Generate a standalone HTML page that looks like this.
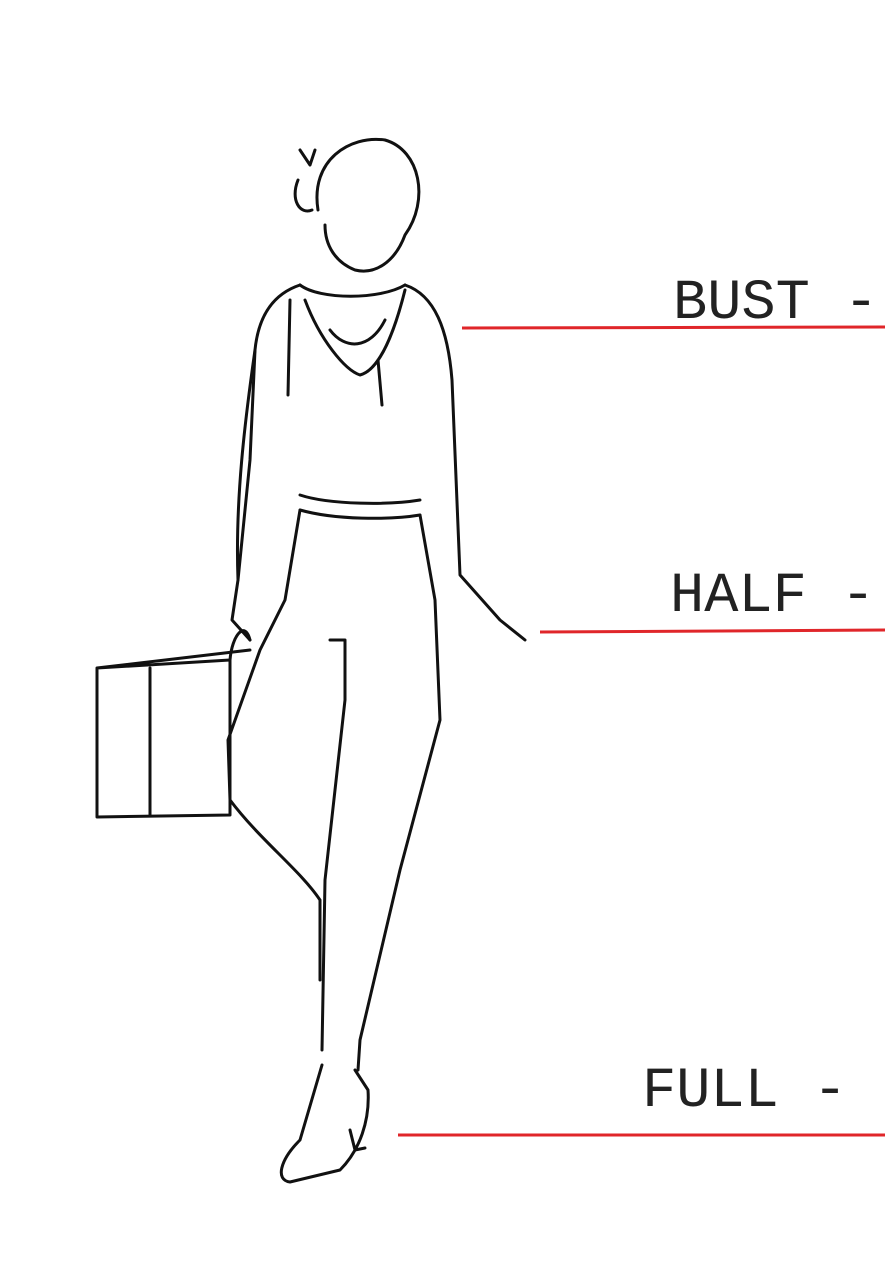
<!DOCTYPE html>
<html><head><meta charset="utf-8"><style>
html,body{margin:0;padding:0;background:#fff;}
svg{display:block;}
text{font-family:"Liberation Mono",monospace;font-size:57px;fill:#222;}
</style></head><body>
<svg width="885" height="1272" viewBox="0 0 885 1272">
<g fill="none" stroke="#111" stroke-width="3" stroke-linecap="round" stroke-linejoin="round">
<path d="M318 210 C310 160 350 135 385 140 C420 150 430 200 405 235 C395 262 375 275 355 270 C335 262 325 245 325 225"/>
<path d="M300 150 L310 165 L315 150 M298 180 C290 200 300 215 312 210"/>
<path d="M300 285 C320 300 380 300 405 285 M305 300 C320 340 345 370 360 375 C380 370 395 330 405 290 M330 330 C345 350 370 350 385 320 M290 300 L288 395 M378 360 L382 405"/>
<path d="M300 285 C270 295 258 320 255 350 L250 460 L238 580 M405 285 C435 295 448 330 452 380 L460 575 L500 620 L525 640 M300 495 C330 505 390 505 420 500 M300 510 C335 520 390 520 420 515"/>
<path d="M300 510 L285 600 L260 650 L228 740 L230 800 C260 840 300 870 320 900 L320 980 M420 515 L435 600 L440 720 L400 870 L360 1040 L358 1070 M330 640 L345 640 L345 700 L325 880 L322 1050"/>
<path d="M322 1065 L300 1140 C280 1160 275 1180 290 1182 L340 1170 C360 1150 370 1120 368 1090 L355 1070 M350 1130 L355 1150 L365 1148"/>
<path d="M255 350 C245 420 235 500 238 580 L232 620 L250 640"/>
<path d="M97 668 L230 660 L230 815 L97 817 Z M150 668 L150 815 M97 668 L250 650 M230 660 C232 635 245 620 250 640"/>
</g>
<g stroke="#e0262a" stroke-width="3">
<line x1="462" y1="328" x2="885" y2="327"/>
<line x1="540" y1="632" x2="885" y2="630"/>
<line x1="398" y1="1135" x2="885" y2="1135"/>
</g>
<text x="673" y="318">BUST -</text>
<text x="670" y="611">HALF -</text>
<text x="642" y="1106">FULL -</text>
</svg>
</body></html>
